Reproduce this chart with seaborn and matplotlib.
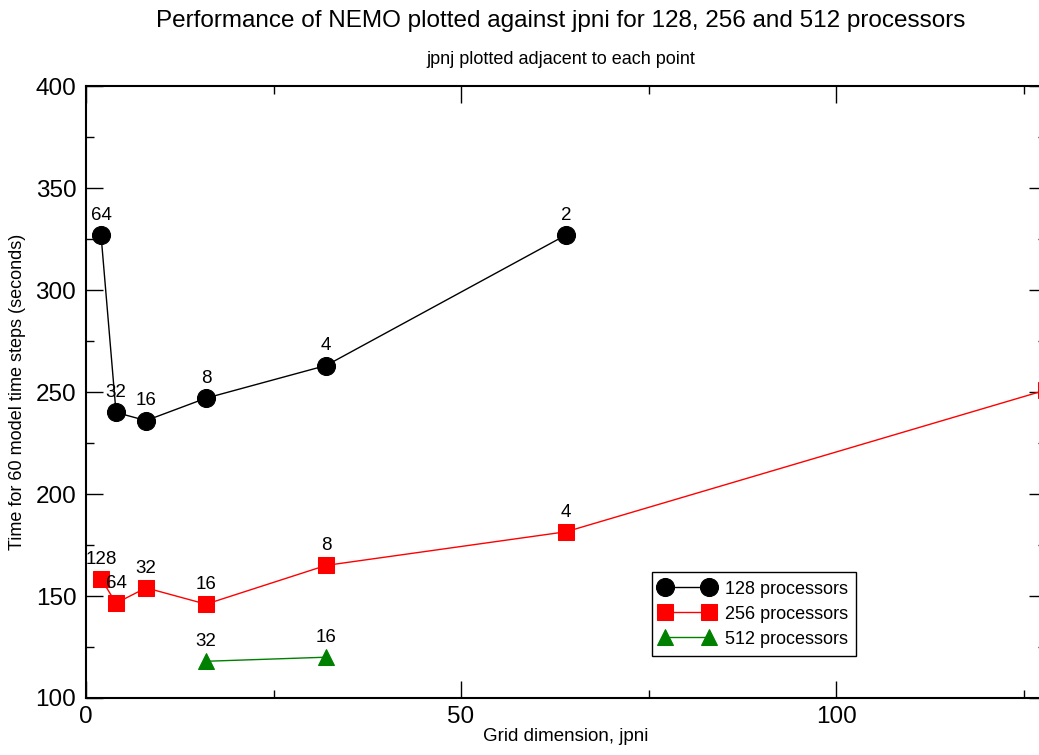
import matplotlib
matplotlib.use('Agg')
import matplotlib.pyplot as plt
from matplotlib.ticker import MultipleLocator
import pandas as pd
import seaborn as sns

jpni_128 = [2, 4, 8, 16, 32, 64]
jpnj_128 = [64, 32, 16, 8, 4, 2]
time_128 = [327, 240, 236, 247, 263, 327]

jpni_256 = [2, 4, 8, 16, 32, 64, 128]
jpnj_256 = [128, 64, 32, 16, 8, 4, 2]
time_256 = [158.5, 146.5, 154, 146, 165, 181.5, 251]

jpni_512 = [16, 32]
jpnj_512 = [32, 16]
time_512 = [118, 120]

series = [
    ("128 processors", jpni_128, jpnj_128, time_128, "black", "o", 13),
    ("256 processors", jpni_256, jpnj_256, time_256, "red", "s", 11),
    ("512 processors", jpni_512, jpnj_512, time_512, "green", "^", 11),
]


def main():
    sns.set_theme(style='ticks')
    plt.rcParams['font.family'] = ['Liberation Sans', 'DejaVu Sans']
    plt.rcParams['text.color'] = 'black'
    plt.rcParams['axes.labelcolor'] = 'black'
    plt.rcParams['xtick.color'] = 'black'
    plt.rcParams['ytick.color'] = 'black'

    fig = plt.figure(figsize=(10.39, 7.55), dpi=100)
    ax = fig.add_axes([0.0828, 0.0755, 0.924, 0.8105])

    for name, x, labels, y, color, marker, ms in series:
        df = pd.DataFrame({'jpni': x, 'time': y})
        sns.lineplot(data=df, x='jpni', y='time', ax=ax, color=color,
                     marker=marker, markersize=ms, markeredgecolor=color,
                     linewidth=1, label=name, sort=False)
        for xi, yi, lab in zip(x, y, labels):
            ax.annotate(str(lab), (xi, yi), xytext=(0, 8), textcoords='offset points',
                        ha='center', va='bottom', fontsize=13.5)

    ax.set_xlim(0, 128)
    ax.set_ylim(100, 400)
    ax.xaxis.set_major_locator(MultipleLocator(50))
    ax.xaxis.set_minor_locator(MultipleLocator(25))
    ax.yaxis.set_major_locator(MultipleLocator(50))
    ax.yaxis.set_minor_locator(MultipleLocator(25))
    ax.tick_params(which='both', direction='in', top=True, right=True,
                   labelsize=17.5, color='black', width=1)
    ax.tick_params(which='major', length=12)
    ax.tick_params(which='minor', length=6)
    ax.tick_params(axis='y', pad=7)
    ax.tick_params(axis='x', pad=6)
    for sp in ax.spines.values():
        sp.set_color('black')
        sp.set_linewidth(1.5)

    ax.set_xlabel('Grid dimension, jpni', fontsize=13.5, labelpad=0)
    ax.set_ylabel('Time for 60 model time steps (seconds)', fontsize=13, labelpad=7)

    fig.text(0.54, 0.972, 'Performance of NEMO plotted against jpni for 128, 256 and 512 processors',
             ha='center', va='center', fontsize=17.5)
    fig.text(0.54, 0.921, 'jpnj plotted adjacent to each point', ha='center', va='center', fontsize=13)

    leg = ax.legend(loc='upper left', bbox_to_anchor=(0.580, 0.220), fontsize=13,
                    frameon=True, fancybox=False, framealpha=1, edgecolor='black',
                    borderpad=0.45, handlelength=3, numpoints=2, labelspacing=0.45,
                    handletextpad=0.6)
    leg.get_frame().set_linewidth(1)

    fig.savefig('out.png', dpi=100)
    plt.close(fig)


if __name__ == '__main__':
    main()
